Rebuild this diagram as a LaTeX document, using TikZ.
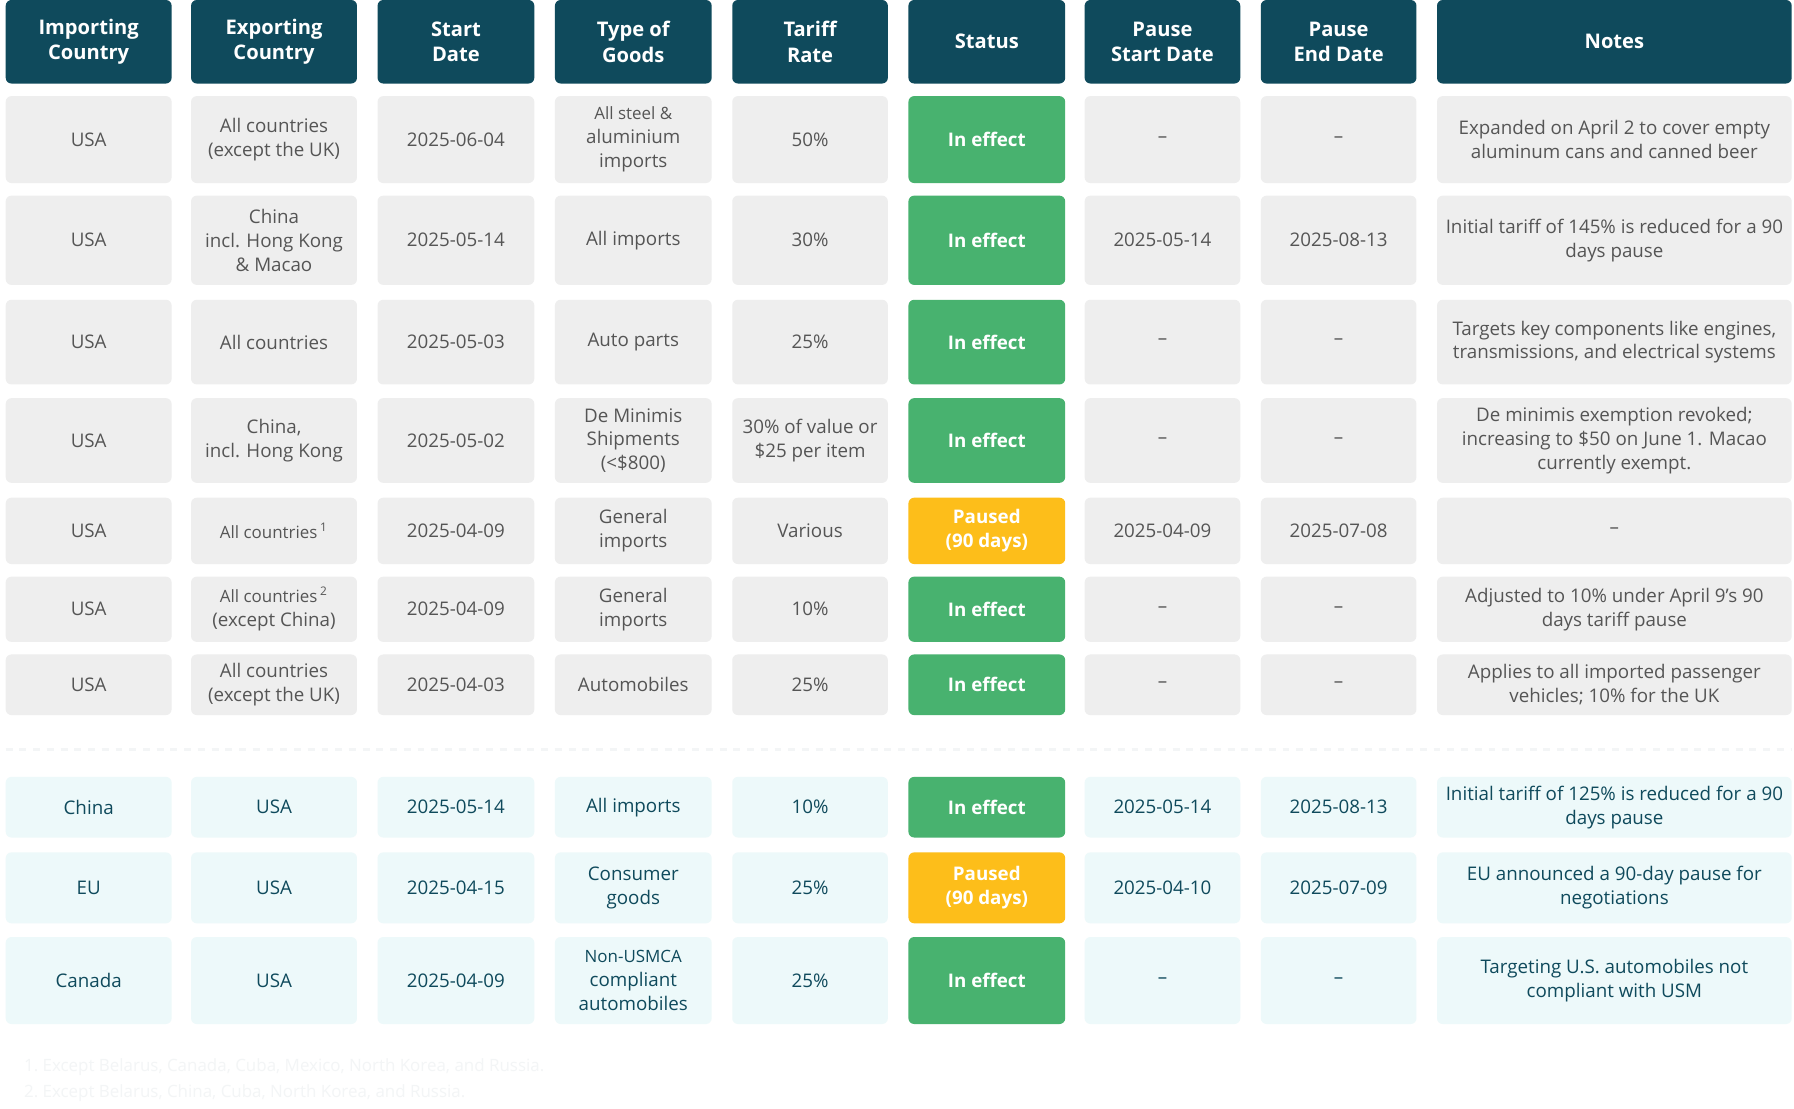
\documentclass[tikz,border=0pt]{standalone}
\usepackage{fontspec}
\setmainfont{Open Sans}
\definecolor{hdr}{HTML}{0F4A5C}
\definecolor{grayc}{HTML}{EEEEEE}
\definecolor{grayt}{HTML}{555555}
\definecolor{grn}{HTML}{48B26F}
\definecolor{ylw}{HTML}{FDBE1A}
\definecolor{cyanc}{HTML}{EDF9FA}
\definecolor{fn}{HTML}{F3F5F6}
\tikzset{
 base/.style={rounded corners=2.5pt, inner sep=0pt, align=center, font=\fontsize{8.2}{10.4}\selectfont},
 hcell/.style={base, fill=hdr, text=white, font=\fontsize{8.8}{11.2}\selectfont\bfseries},
 gcell/.style={base, fill=grayc, text=grayt},
 ccell/.style={base, fill=cyanc, text=hdr},
 oncell/.style={base, fill=grn, text=white, font=\fontsize{8.2}{10.4}\selectfont\bfseries},
 pcell/.style={base, fill=ylw, text=white, font=\fontsize{8.2}{10.4}\selectfont\bfseries},
}
% column bounds
\def\xa{5}\def\xA{150}
\def\xb{167}\def\xB{312}
\def\xc{330}\def\xC{467}
\def\xd{485}\def\xD{622}
\def\xe{640}\def\xE{776}
\def\xf{794}\def\xF{931}
\def\xg{948}\def\xG{1084}
\def\xh{1102}\def\xH{1238}
\def\xi{1256}\def\xI{1566}
\newcommand\setrow[2]{\def\ylo{#1}\def\yhi{#2}}
\newcommand\cell[5]{%
 \node[#4, minimum width={(#3-#2)*0.5pt}, minimum height={(\yhi-\ylo)*0.5pt}] (#1) at ({(#2+#3)/2},{(\ylo+\yhi)/2}) {#5};}
\newcommand\trow[9]{%
 \cell{#1a}{\xa}{\xA}{#2}{#3}\cell{#1b}{\xb}{\xB}{#2}{#4}\cell{#1c}{\xc}{\xC}{#2}{#5}%
 \cell{#1d}{\xd}{\xD}{#2}{#6}\cell{#1e}{\xe}{\xE}{#2}{#7}\cell{#1f}{\xf}{\xF}{#8}{#9}}
\newcommand\trest[5]{%
 \cell{#1g}{\xg}{\xG}{#2}{#3}\cell{#1h}{\xh}{\xH}{#2}{#4}\cell{#1i}{\xi}{\xI}{#2}{#5}}
\begin{document}
\begin{tikzpicture}[x=0.5pt,y=-0.5pt]
\useasboundingbox (0,0) rectangle (1568,969);
\fill[white] (0,0) rectangle (1568,969);
\setrow{0}{73}
\trow{h}{hcell}{Importing\\Country}{Exporting\\Country}{Start\\Date}{Type of\\Goods}{Tariff\\Rate}{hcell}{Status}
\trest{h}{hcell}{Pause\\Start Date}{Pause\\End Date}{Notes}
\setrow{84}{160}
\trow{r1}{gcell}{USA}{All countries\\(except the UK)}{2025-06-04}{\fontsize{7.4}{9.6}\selectfont All steel \&\\aluminium\\imports}{50\%}{oncell}{In effect}
\trest{r1}{gcell}{–}{–}{Expanded on April 2 to cover empty\\aluminum cans and canned beer}
\setrow{171}{249}
\trow{r2}{gcell}{USA}{China\\incl. Hong Kong\\\& Macao}{2025-05-14}{All imports}{30\%}{oncell}{In effect}
\trest{r2}{gcell}{2025-05-14}{2025-08-13}{Initial tariff of 145\% is reduced for a 90\\days pause}
\setrow{262}{336}
\trow{r3}{gcell}{USA}{All countries}{2025-05-03}{Auto parts}{25\%}{oncell}{In effect}
\trest{r3}{gcell}{–}{–}{Targets key components like engines,\\transmissions, and electrical systems}
\setrow{348}{422}
\trow{r4}{gcell}{USA}{China,\\incl. Hong Kong}{2025-05-02}{De Minimis\\Shipments\\(<\$800)}{30\% of value or\\\$25 per item}{oncell}{In effect}
\trest{r4}{gcell}{–}{–}{De minimis exemption revoked;\\increasing to \$50 on June 1. Macao\\currently exempt.}
\setrow{435}{493}
\trow{r5}{gcell}{USA}{\fontsize{7.4}{9.6}\selectfont All countries\,\textsuperscript{1}}{2025-04-09}{General\\imports}{Various}{pcell}{Paused\\(90 days)}
\trest{r5}{gcell}{2025-04-09}{2025-07-08}{–}
\setrow{504}{561}
\trow{r6}{gcell}{USA}{{\fontsize{7.4}{9.6}\selectfont All countries\,\textsuperscript{2}}\\(except China)}{2025-04-09}{General\\imports}{10\%}{oncell}{In effect}
\trest{r6}{gcell}{–}{–}{Adjusted to 10\% under April 9's 90\\days tariff pause}
\setrow{572}{625}
\trow{r7}{gcell}{USA}{All countries\\(except the UK)}{2025-04-03}{Automobiles}{25\%}{oncell}{In effect}
\trest{r7}{gcell}{–}{–}{Applies to all imported passenger\\vehicles; 10\% for the UK}
\coordinate (dl) at (5,655);
\coordinate (dr) at (1566,655);
\draw[fn, line width=1.2pt, dashed] (dl) -- (dr);
\setrow{679}{732}
\trow{r8}{ccell}{China}{USA}{2025-05-14}{All imports}{10\%}{oncell}{In effect}
\trest{r8}{ccell}{2025-05-14}{2025-08-13}{Initial tariff of 125\% is reduced for a 90\\days pause}
\setrow{745}{807}
\trow{r9}{ccell}{EU}{USA}{2025-04-15}{Consumer\\goods}{25\%}{pcell}{Paused\\(90 days)}
\trest{r9}{ccell}{2025-04-10}{2025-07-09}{EU announced a 90-day pause for\\negotiations}
\setrow{819}{895}
\trow{r10}{ccell}{Canada}{USA}{2025-04-09}{\fontsize{7.4}{9.6}\selectfont Non-USMCA\\compliant\\automobiles}{25\%}{oncell}{In effect}
\trest{r10}{ccell}{–}{–}{Targeting U.S. automobiles not\\compliant with USM}
\node[anchor=west, text=fn, font=\fontsize{7.4}{9}\selectfont] (f1) at (14,933) {1.\ Except Belarus, Canada, Cuba, Mexico, North Korea, and Russia.};
\node[anchor=west, text=fn, font=\fontsize{7.4}{9}\selectfont] (f2) at (14,955) {2.\ Except Belarus, China, Cuba, North Korea, and Russia.};
\end{tikzpicture}
\end{document}
